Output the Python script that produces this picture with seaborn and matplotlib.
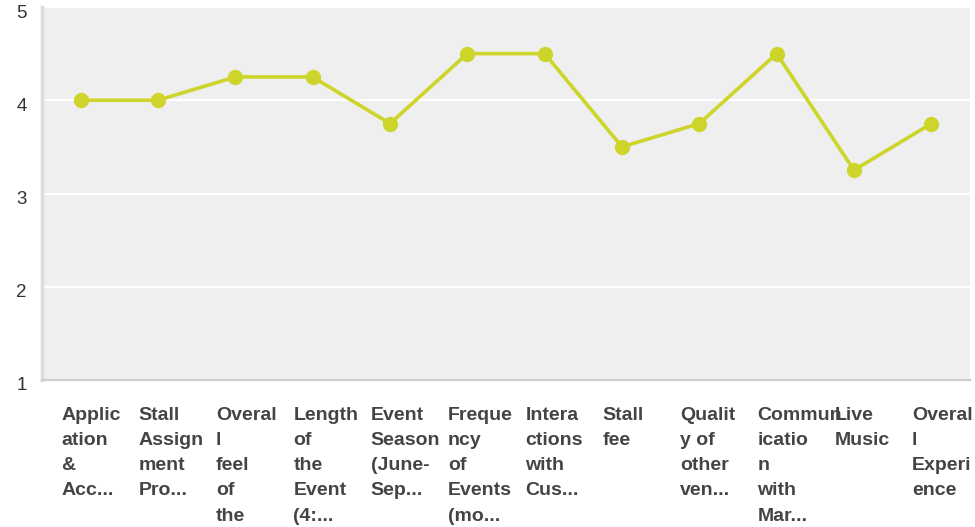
import matplotlib
matplotlib.use("Agg")
import matplotlib.pyplot as plt
import matplotlib.transforms as mtransforms
import seaborn as sns
import pandas as pd

# --- Data ---
categories = [
    "Applic\nation\n&\nAcc...",
    "Stall\nAssign\nment\nPro...",
    "Overal\nl\nfeel\nof\nthe",
    "Length\nof\nthe\nEvent\n(4:...",
    "Event\nSeason\n(June-\nSep...",
    "Freque\nncy\nof\nEvents\n(mo...",
    "Intera\nctions\nwith\nCus...",
    "Stall\nfee",
    "Qualit\ny of\nother\nven...",
    "Commun\nicatio\nn\nwith\nMar...",
    "Live\nMusic",
    "Overal\nl\nExperi\nence",
]
scores = [4.0, 4.0, 4.25, 4.25, 3.75, 4.5, 4.5, 3.5, 3.75, 4.5, 3.25, 3.75]
y_ticks = [1, 2, 3, 4, 5]

df = pd.DataFrame({"pos": range(len(categories)), "score": scores})

# --- Style ---
sns.set_theme(style="white")
plt.rcParams["font.family"] = ["Liberation Sans", "DejaVu Sans"]

fig = plt.figure(figsize=(9.75, 5.27), dpi=100)
ax = fig.add_axes([42 / 975, 1 - 380 / 527, (970 - 42) / 975, (380 - 7) / 527])
ax.set_facecolor("#efefef")

line_color = "#cdd52a"
sns.lineplot(data=df, x="pos", y="score", ax=ax, color=line_color, linewidth=2.6,
             marker="o", markersize=11, markeredgewidth=0, markeredgecolor=line_color)

ax.set_xlim(-0.5, len(categories) - 0.5)
ax.set_ylim(1, 5)
ax.set_yticks(y_ticks)
ax.set_yticklabels([str(t) for t in y_ticks], fontsize=13.5, color="#333333")
ax.tick_params(axis="y", length=0, pad=11)
# nudge the y labels down a little, like the original
shift = mtransforms.ScaledTranslation(0, -4 / 100, fig.dpi_scale_trans)
for lbl in ax.get_yticklabels():
    lbl.set_transform(lbl.get_transform() + shift)
ax.set_xticks([])
ax.set_xlabel("")
ax.set_ylabel("")

for t in y_ticks[1:]:
    ax.axhline(t, color="white", linewidth=1.6, zorder=1)

for side in ["top", "right"]:
    ax.spines[side].set_visible(False)
ax.spines["left"].set_color("#dcdcdc")
ax.spines["left"].set_linewidth(2.5)
ax.spines["bottom"].set_color("#cccccc")
ax.spines["bottom"].set_linewidth(1.6)

# category labels, left-aligned within each column
trans = mtransforms.blended_transform_factory(ax.transData, ax.transAxes)
for i, lab in enumerate(categories):
    ax.text(i - 0.25, -0.072, lab, transform=trans, ha="left", va="top",
            fontsize=14, fontweight="bold", color="#444444", linespacing=1.63)

fig.savefig("out.png", dpi=100)
